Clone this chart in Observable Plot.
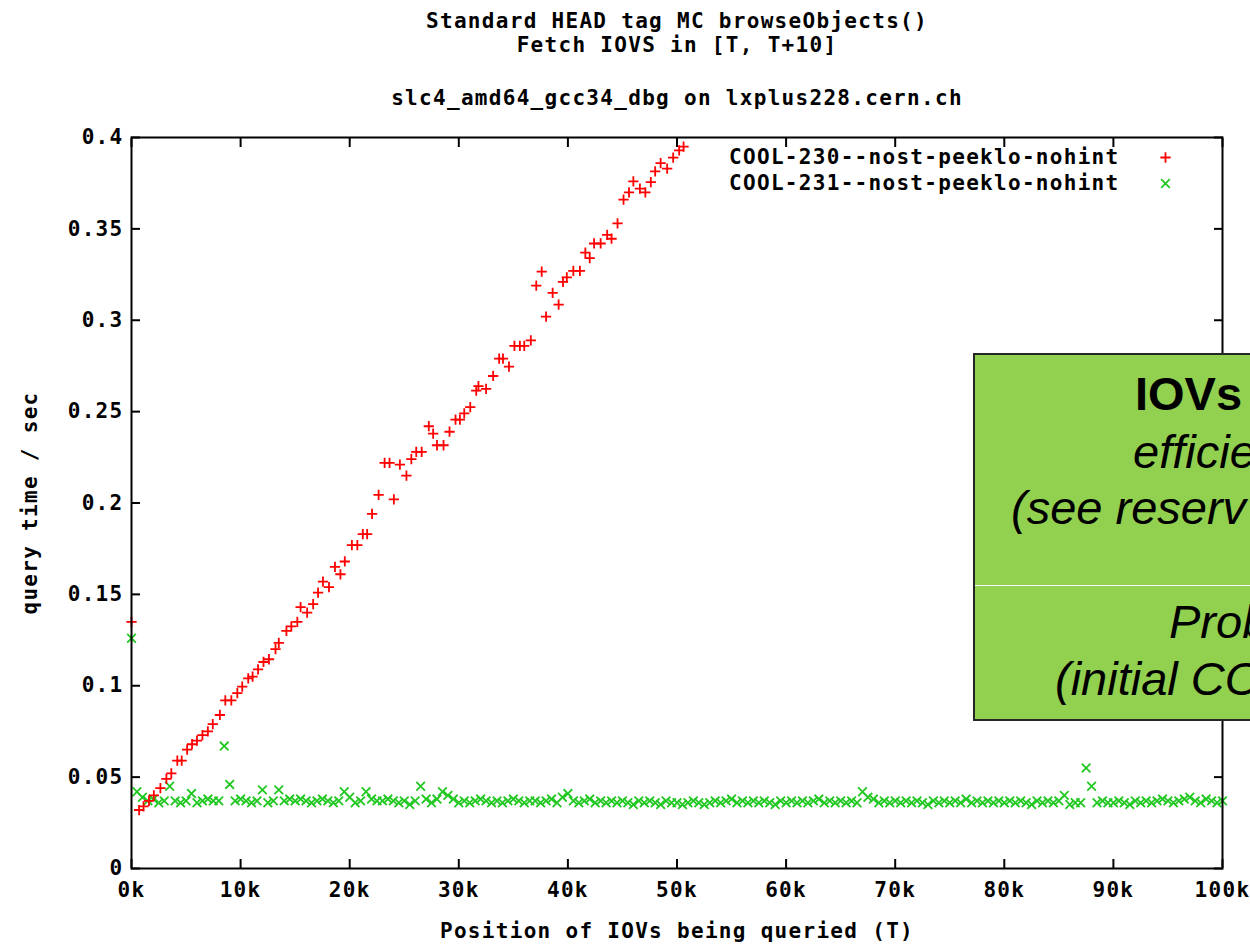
<!DOCTYPE html>
<html><head><meta charset="utf-8">
<script src="https://cdn.jsdelivr.net/npm/d3@7"></script>
<script src="https://cdn.jsdelivr.net/npm/@observablehq/plot@0.6"></script>
<style>
html,body{margin:0;padding:0;background:#fff;overflow:hidden;width:1250px;height:944px;}
#wrap{position:relative;width:1250px;height:944px;overflow:hidden;}
#wrap svg{position:absolute;left:0;top:0;}
#wrap svg text{letter-spacing:1.3px;}
#note{position:absolute;left:973px;top:353px;width:420px;height:368px;background:#92d050;border:2px solid #262626;box-sizing:border-box;font-family:"Liberation Sans",Arial,sans-serif;color:#000;}
#note .sep{position:absolute;left:0;right:0;top:230px;height:1px;background:#fff;}
#note span{position:absolute;white-space:nowrap;font-size:47px;line-height:47px;}
</style></head><body><div id="wrap"></div>
<script>
// Series: COOL-230 (red +), position in IOVs and query time in seconds
const redX = [0,700,1100,1600,2050,2650,3200,3650,4200,4600,5100,5550,6000,6500,7000,7450,8100,8600,9150,9700,
10150,10700,11100,11600,12100,12600,13200,13500,14200,14650,15200,15500,16100,16650,17100,17550,18100,18650,19150,19550,
20200,20700,21200,21600,22050,22650,23200,23650,24050,24600,25200,25650,26100,26600,27250,27650,28000,28600,29150,29700,
30100,30500,31050,31600,31800,32500,33150,33700,34050,34600,35100,35600,36000,36600,37100,37600,38000,38600,39150,39550,
39900,40500,41100,41600,42000,42400,43000,43600,44000,44550,45100,45600,46000,46600,47100,47600,48000,48500,49100,49650,
50200,50600];
const redY = [0.135,0.032,0.034,0.037,0.040,0.044,0.049,0.052,0.059,0.059,0.065,0.068,0.070,0.073,0.075,0.079,0.084,0.092,0.092,0.096,
0.0995,0.104,0.105,0.109,0.113,0.1145,0.120,0.1235,0.130,0.1325,0.135,0.143,0.140,0.1447,0.151,0.157,0.154,0.165,0.161,0.168,
0.177,0.177,0.183,0.183,0.194,0.2045,0.222,0.222,0.202,0.221,0.215,0.224,0.228,0.228,0.242,0.238,0.2316,0.2316,0.239,0.2456,
0.2456,0.249,0.2525,0.2615,0.264,0.2625,0.2695,0.279,0.279,0.2746,0.286,0.286,0.286,0.289,0.319,0.3266,0.302,0.315,0.3086,0.321,
0.3235,0.327,0.327,0.337,0.334,0.342,0.342,0.3467,0.3446,0.353,0.366,0.370,0.376,0.372,0.370,0.3756,0.3815,0.386,0.383,0.389,
0.393,0.395];

// Series: COOL-231 (green x), one point every 500 IOVs from 0 to 100k
const greenX = [0,500,1000,1500,2000,2500,3000,3500,4000,4500,5000,5500,6000,6500,7000,7500,8000,8500,9000,9500,
10000,10500,11000,11500,12000,12500,13000,13500,14000,14500,15000,15500,16000,16500,17000,17500,18000,18500,19000,19500,
20000,20500,21000,21500,22000,22500,23000,23500,24000,24500,25000,25500,26000,26500,27000,27500,28000,28500,29000,29500,
30000,30500,31000,31500,32000,32500,33000,33500,34000,34500,35000,35500,36000,36500,37000,37500,38000,38500,39000,39500,
40000,40500,41000,41500,42000,42500,43000,43500,44000,44500,45000,45500,46000,46500,47000,47500,48000,48500,49000,49500,
50000,50500,51000,51500,52000,52500,53000,53500,54000,54500,55000,55500,56000,56500,57000,57500,58000,58500,59000,59500,
60000,60500,61000,61500,62000,62500,63000,63500,64000,64500,65000,65500,66000,66500,67000,67500,68000,68500,69000,69500,
70000,70500,71000,71500,72000,72500,73000,73500,74000,74500,75000,75500,76000,76500,77000,77500,78000,78500,79000,79500,
80000,80500,81000,81500,82000,82500,83000,83500,84000,84500,85000,85500,86000,86500,87000,87500,88000,88500,89000,89500,
90000,90500,91000,91500,92000,92500,93000,93500,94000,94500,95000,95500,96000,96500,97000,97500,98000,98500,99000,99500,
100000];
const greenY = [0.126,0.042,0.039,0.037,0.038,0.036,0.037,0.045,0.037,0.036,
0.037,0.041,0.036,0.037,0.038,0.037,0.037,0.067,0.046,0.037,
0.038,0.037,0.036,0.037,0.043,0.036,0.037,0.043,0.037,0.038,
0.037,0.038,0.037,0.036,0.037,0.038,0.037,0.036,0.037,0.042,
0.039,0.036,0.037,0.042,0.038,0.037,0.037,0.038,0.037,0.036,
0.037,0.035,0.037,0.045,0.038,0.036,0.038,0.042,0.040,0.038,
0.036,0.037,0.036,0.037,0.038,0.037,0.036,0.037,0.036,0.037,
0.038,0.037,0.036,0.037,0.037,0.036,0.037,0.038,0.036,0.039,
0.041,0.037,0.036,0.037,0.038,0.036,0.037,0.036,0.037,0.036,
0.037,0.036,0.035,0.037,0.036,0.037,0.036,0.035,0.037,0.036,
0.036,0.035,0.036,0.037,0.036,0.035,0.036,0.037,0.036,0.037,
0.038,0.036,0.037,0.036,0.037,0.036,0.037,0.036,0.035,0.037,
0.036,0.037,0.036,0.037,0.036,0.037,0.038,0.036,0.037,0.036,
0.037,0.036,0.037,0.036,0.042,0.039,0.038,0.036,0.037,0.036,
0.037,0.036,0.037,0.036,0.037,0.036,0.035,0.037,0.036,0.037,
0.036,0.037,0.036,0.038,0.036,0.037,0.036,0.037,0.036,0.037,
0.036,0.037,0.036,0.037,0.036,0.035,0.037,0.036,0.037,0.036,
0.037,0.040,0.035,0.036,0.036,0.055,0.045,0.036,0.037,0.036,
0.036,0.037,0.036,0.035,0.037,0.036,0.037,0.036,0.037,0.038,
0.037,0.036,0.037,0.038,0.039,0.037,0.036,0.038,0.037,0.036,
0.037];

const seriesNames = ["COOL-230--nost-peeklo-nohint", "COOL-231--nost-peeklo-nohint"];
const seriesColors = ["#ff0000", "#22c822"];
const seriesSymbols = ["plus", "times"];
const xTicks = [0,10000,20000,30000,40000,50000,60000,70000,80000,90000,100000];
const xTickLabels = ["0k","10k","20k","30k","40k","50k","60k","70k","80k","90k","100k"];
const yTicks = [0,0.05,0.1,0.15,0.2,0.25,0.3,0.35,0.4];
const yTickLabels = ["0","0.05","0.1","0.15","0.2","0.25","0.3","0.35","0.4"];
const titleLines = ["Standard HEAD tag MC browseObjects()", "Fetch IOVS in [T, T+10]", "slc4_amd64_gcc34_dbg on lxplus228.cern.ch"];
const xLabel = "Position of IOVs being queried (T)";
const yLabel = "query time / sec";
const noteLines = ["IOVs", "efficie", "(see reserv", "Prob", "(initial CO"];

const red = redX.map((x, i) => ({x, y: redY[i]}));
const green = greenX.map((x, i) => ({x, y: greenY[i]}));
const sizes = {plus: 3.4, times: 4.0};
const sw = 1.8;

const chart = Plot.plot({
  width: 1250,
  height: 944,
  marginLeft: 131,
  marginRight: 28,
  marginTop: 137,
  marginBottom: 76,
  style: {background: "white", color: "black", fontFamily: "'DejaVu Sans Mono', monospace", fontSize: "21px", fontWeight: "bold"},
  x: {domain: [0, 100000]},
  y: {domain: [0, 0.4]},
  marks: [
    Plot.dot(green, {x: "x", y: "y", symbol: seriesSymbols[1], stroke: seriesColors[1], r: sizes.times, strokeWidth: sw}),
    Plot.dot(red, {x: "x", y: "y", symbol: seriesSymbols[0], stroke: seriesColors[0], r: sizes.plus, strokeWidth: sw}),
    Plot.axisX({anchor: "bottom", ticks: xTicks, tickSize: 0, tickPadding: 14, label: null,
      tickFormat: d => xTickLabels[xTicks.indexOf(d)]}),
    Plot.axisY({anchor: "left", ticks: yTicks, tickSize: 0, tickPadding: 8, label: null,
      tickFormat: d => yTickLabels[yTicks.indexOf(d)]}),
    Plot.axisX({anchor: "bottom", ticks: xTicks, tickSize: -9, tickFormat: () => "", label: null, strokeWidth: 2}),
    Plot.axisX({anchor: "top", ticks: xTicks, tickSize: -9, tickFormat: () => "", label: null, strokeWidth: 2}),
    Plot.axisY({anchor: "left", ticks: yTicks, tickSize: -9, tickFormat: () => "", label: null, strokeWidth: 2}),
    Plot.axisY({anchor: "right", ticks: yTicks, tickSize: -9, tickFormat: () => "", label: null, strokeWidth: 2}),
    Plot.frame({stroke: "black", strokeWidth: 2}),
    Plot.text([titleLines[0]], {text: d => d, frameAnchor: "top", textAnchor: "middle", lineAnchor: "middle", dy: -116}),
    Plot.text([titleLines[1]], {text: d => d, frameAnchor: "top", textAnchor: "middle", lineAnchor: "middle", dy: -92}),
    Plot.text([titleLines[2]], {text: d => d, frameAnchor: "top", textAnchor: "middle", lineAnchor: "middle", dy: -39}),
    Plot.text([xLabel], {text: d => d, frameAnchor: "bottom", textAnchor: "middle", lineAnchor: "middle", dy: 63}),
    Plot.text([yLabel], {text: d => d, frameAnchor: "left", textAnchor: "middle", lineAnchor: "middle", dx: -101, rotate: -90}),
    ...seriesNames.flatMap((name, i) => [
      Plot.text([name], {text: d => d, frameAnchor: "top-right", textAnchor: "end", lineAnchor: "middle", dx: -103, dy: 20 + 26 * i}),
      Plot.dot([name], {frameAnchor: "top-right", dx: -57, dy: 20 + 26 * i, symbol: seriesSymbols[i], stroke: seriesColors[i],
        r: sizes[seriesSymbols[i]], strokeWidth: sw})
    ])
  ]
});

const wrap = document.getElementById("wrap");
wrap.appendChild(chart);

// Overlaid slide note box (cropped at the right edge)
const note = document.createElement("div");
note.id = "note";
note.innerHTML = '<div class="sep"></div>';
const notePos = [[160, 15, "bold", "normal"], [158, 73, "normal", "italic"], [36, 129, "normal", "italic"], [194, 243, "normal", "italic"], [80, 300, "normal", "italic"]];
noteLines.forEach((t, i) => {
  const s = document.createElement("span");
  s.textContent = t;
  s.style.left = notePos[i][0] + "px";
  s.style.top = notePos[i][1] + "px";
  s.style.fontWeight = notePos[i][2];
  s.style.fontStyle = notePos[i][3];
  note.appendChild(s);
});
wrap.appendChild(note);
</script></body></html>
